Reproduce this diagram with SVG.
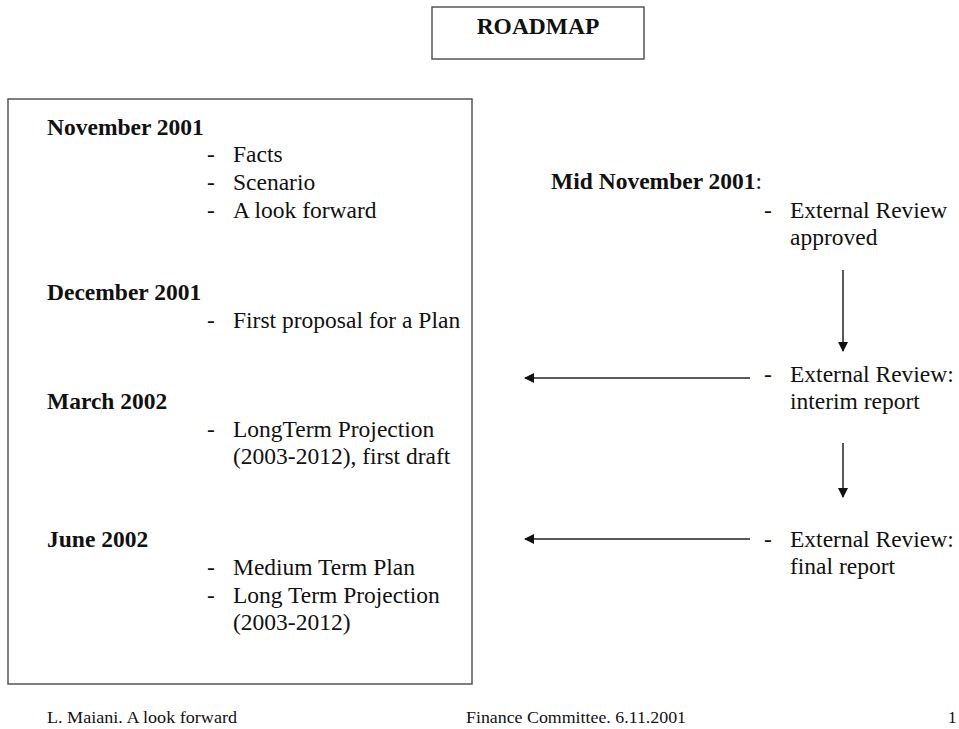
<svg xmlns="http://www.w3.org/2000/svg" width="959" height="729" viewBox="0 0 959 729">
<style>
text{font-family:"Liberation Serif","Times New Roman",serif;fill:#111;font-size:23.5px}
.b{font-weight:bold}
.f{font-size:17px}
.box{fill:none;stroke:#555;stroke-width:1.5}
.c{stroke:#222;stroke-width:1.5;fill:none}
</style>
<defs>
<marker id="ah" markerWidth="10" markerHeight="10" refX="9" refY="5" orient="auto" markerUnits="userSpaceOnUse">
<path d="M0,0 L10,5 L0,10 Z" fill="#111"/>
</marker>
</defs>
<rect width="959" height="729" fill="#fff"/>
<g id="title">
<rect class="box" x="432" y="7" width="212" height="52"/>
<text class="b" x="538" y="34" text-anchor="middle">ROADMAP</text>
</g>
<g id="timeline">
<rect class="box" x="8" y="99" width="464" height="585"/>
<text class="b" x="47" y="135">November 2001</text>
<text x="207" y="162">-</text><text x="233" y="162">Facts</text>
<text x="207" y="190">-</text><text x="233" y="190">Scenario</text>
<text x="207" y="218">-</text><text x="233" y="218">A look forward</text>
<text class="b" x="47" y="300">December 2001</text>
<text x="207" y="328">-</text><text x="233" y="328">First proposal for a Plan</text>
<text class="b" x="47" y="409">March 2002</text>
<text x="207" y="437">-</text><text x="233" y="437">LongTerm Projection</text>
<text x="233" y="464">(2003-2012), first draft</text>
<text class="b" x="47" y="547">June 2002</text>
<text x="207" y="575">-</text><text x="233" y="575">Medium Term Plan</text>
<text x="207" y="603">-</text><text x="233" y="603">Long Term Projection</text>
<text x="233" y="630">(2003-2012)</text>
</g>
<g id="review-approved">
<text x="551" y="189"><tspan class="b">Mid November 2001</tspan>:</text>
<text x="764" y="218">-</text><text x="790" y="218">External Review</text>
<text x="790" y="245">approved</text>
</g>
<g id="review-interim">
<text x="764" y="382">-</text><text x="790" y="382">External Review:</text>
<text x="790" y="409">interim report</text>
</g>
<g id="review-final">
<text x="764" y="547">-</text><text x="790" y="547">External Review:</text>
<text x="790" y="574">final report</text>
</g>
<g id="connectors">
<line class="c" x1="843" y1="270" x2="843" y2="351" marker-end="url(#ah)"/>
<line class="c" x1="843" y1="443" x2="843" y2="497" marker-end="url(#ah)"/>
<line class="c" x1="750" y1="378" x2="525" y2="378" marker-end="url(#ah)"/>
<line class="c" x1="750" y1="539" x2="525" y2="539" marker-end="url(#ah)"/>
</g>
<g id="footer">
<text class="f" x="47" y="723" textLength="190" lengthAdjust="spacingAndGlyphs">L. Maiani. A look forward</text>
<text class="f" x="466" y="723" textLength="220" lengthAdjust="spacingAndGlyphs">Finance Committee. 6.11.2001</text>
<text class="f" x="948" y="723">1</text>
</g>
</svg>
